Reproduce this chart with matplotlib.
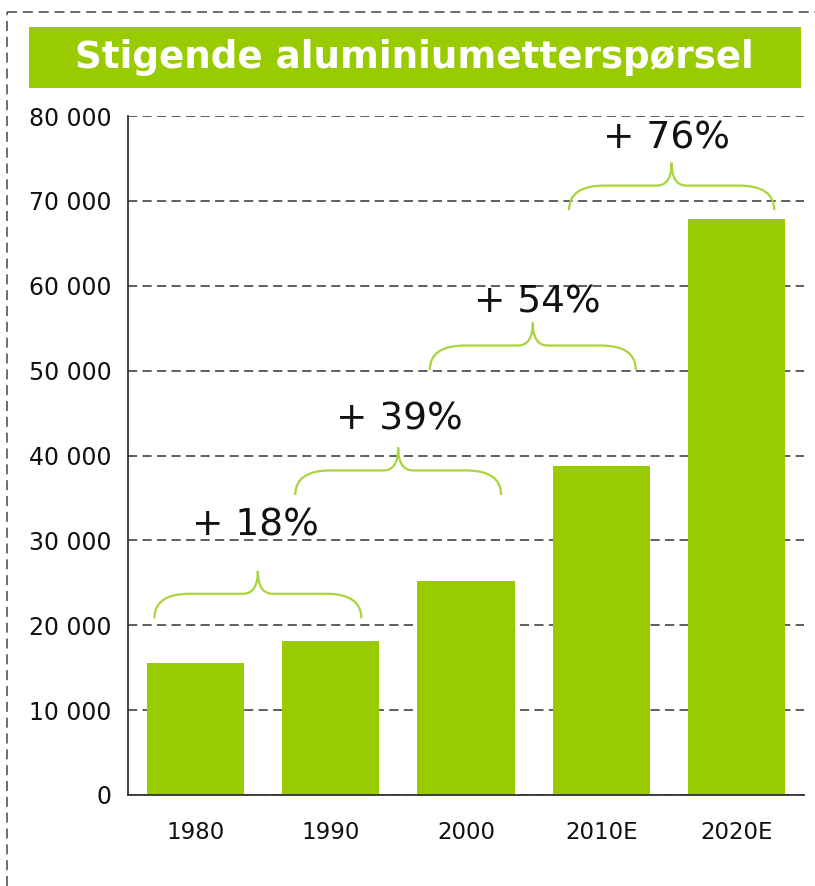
import matplotlib
matplotlib.use("Agg")
import matplotlib.pyplot as plt
from matplotlib.patches import Rectangle, PathPatch
from matplotlib.path import Path
from matplotlib.lines import Line2D

# ---- data ----
categories = ["1980", "1990", "2000", "2010E", "2020E"]
demand = [15500, 18200, 25200, 38800, 67900]
growth_labels = ["+ 18%", "+ 39%", "+ 54%", "+ 76%"]
y_ticks = [0, 10000, 20000, 30000, 40000, 50000, 60000, 70000, 80000]
y_ticklabels = ["0", "10 000", "20 000", "30 000", "40 000", "50 000",
                "60 000", "70 000", "80 000"]
title = "Stigende aluminiumetterspørsel"

# ---- layout (annotation positions) ----
brace_x0 = [-0.305, 0.737, 1.732, 2.762]
brace_x1 = [1.226, 2.26, 3.256, 4.28]
brace_yend = [20810, 35340, 50060, 68900]
label_x = [0.44, 1.504, 2.527, 3.485]
label_y = [31800, 44290, 58070, 77300]

GREEN = "#99CC00"
BRACE = "#A8D43C"
GRID = "#333333"

fig = plt.figure(figsize=(8.15, 8.86), dpi=100)
W, H = 815, 886

# outer dashed frame
fig.add_artist(Line2D([7 / W, 7 / W], [0, 1 - 12 / H], transform=fig.transFigure,
                      color="#555555", lw=1.2, ls=(0, (6, 3.5))))
fig.add_artist(Line2D([7 / W, 1.02], [1 - 12 / H, 1 - 12 / H], transform=fig.transFigure,
                      color="#555555", lw=1.2, ls=(0, (6, 3.5))))

# title banner
fig.add_artist(Rectangle((29 / W, 1 - 88 / H), 772 / W, 61 / H,
                         transform=fig.transFigure, facecolor=GREEN, edgecolor="none"))
fig.text(414 / W, 1 - 58 / H, title, color="white", fontsize=26.8,
         fontweight="bold", ha="center", va="center", family="DejaVu Sans")

ax = fig.add_axes([128 / W, 1 - 795 / H, (804 - 128) / W, (795 - 116) / H])
x = list(range(len(categories)))
ax.bar(x, demand, width=0.72, color=GREEN, zorder=2)
ax.set_xlim(-0.5, 4.5)
ax.set_ylim(0, 80000)
ax.set_yticks(y_ticks)
ax.set_yticklabels(y_ticklabels)
ax.set_xticks(x)
ax.set_xticklabels(categories)
ax.tick_params(axis="y", length=0, pad=12, labelsize=17, colors="#111111")
ax.tick_params(axis="x", length=0, pad=19, labelsize=16.5, colors="#111111")
ax.grid(axis="y", color=GRID, lw=1.1, ls=(0, (6, 3.5)), zorder=1)
ax.set_axisbelow(True)
for s in ["top", "right"]:
    ax.spines[s].set_visible(False)
for s in ["left", "bottom"]:
    ax.spines[s].set_color("#333333")
    ax.spines[s].set_linewidth(1.3)
    ax.spines[s].set_zorder(3)


def brace(ax, x0, x1, y0, color):
    xc = (x0 + x1) / 2
    ym = y0 + 2900
    yt = y0 + 5600
    rx = 0.26
    rc = 0.11
    verts = [
        (x0, y0), (x0, ym), (x0 + rx, ym),
        (xc - rc, ym),
        (xc, ym), (xc, yt),
        (xc, ym), (xc + rc, ym),
        (x1 - rx, ym),
        (x1, ym), (x1, y0),
    ]
    codes = [Path.MOVETO, Path.CURVE3, Path.CURVE3,
             Path.LINETO,
             Path.CURVE3, Path.CURVE3,
             Path.CURVE3, Path.CURVE3,
             Path.LINETO,
             Path.CURVE3, Path.CURVE3]
    p = PathPatch(Path(verts, codes), facecolor="none", edgecolor=color,
                  lw=1.6, zorder=4, clip_on=False)
    ax.add_patch(p)


for i in range(len(growth_labels)):
    brace(ax, brace_x0[i], brace_x1[i], brace_yend[i], BRACE)
    ax.text(label_x[i], label_y[i], growth_labels[i], fontsize=27, ha="center",
            va="center", color="#111111", zorder=5)

fig.savefig("out.png", dpi=100)
